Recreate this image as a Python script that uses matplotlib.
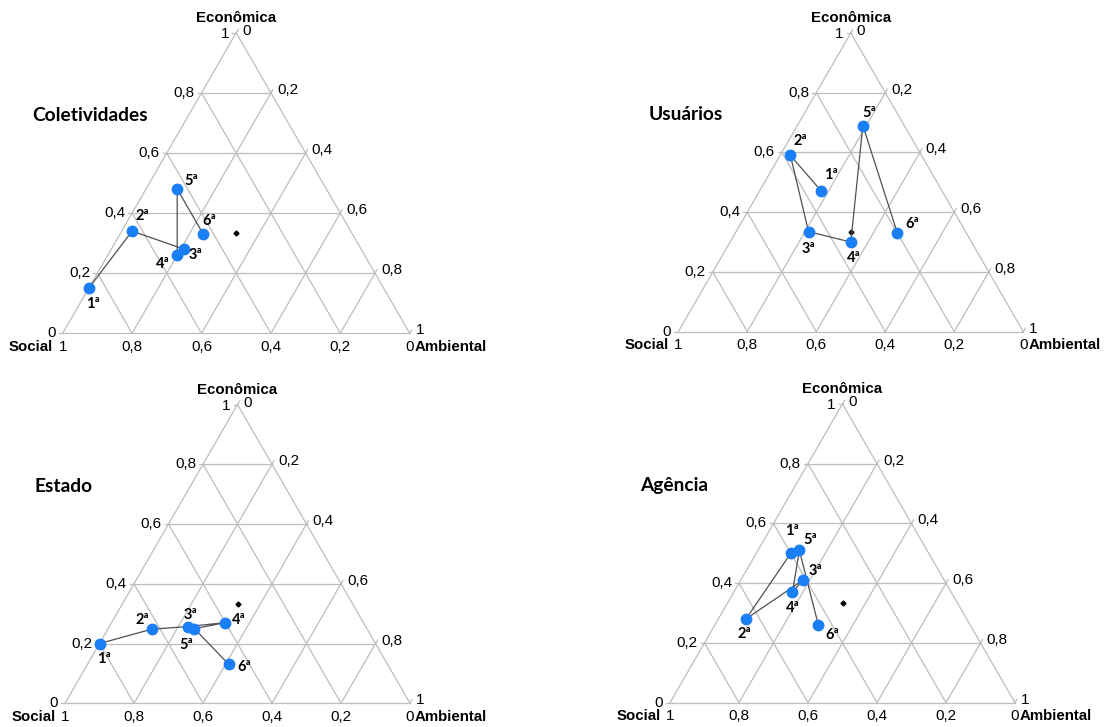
import numpy as np
import matplotlib
matplotlib.use("Agg")
import matplotlib.pyplot as plt

# Proporções (Social, Ambiental, Econômica) de cada rodada, por grupo
titulos = ["Coletividades", "Usuários", "Estado", "Agência"]
rodadas = ["1ª", "2ª", "3ª", "4ª", "5ª", "6ª"]

coletividades_social = [0.85, 0.63, 0.51, 0.54, 0.43, 0.43]
coletividades_ambiental = [0.00, 0.03, 0.21, 0.20, 0.09, 0.24]
coletividades_economica = [0.15, 0.34, 0.28, 0.26, 0.48, 0.33]

usuarios_social = [0.35, 0.38, 0.455, 0.35, 0.12, 0.20]
usuarios_ambiental = [0.18, 0.03, 0.21, 0.35, 0.19, 0.47]
usuarios_economica = [0.47, 0.59, 0.335, 0.30, 0.69, 0.33]

estado_social = [0.80, 0.625, 0.515, 0.40, 0.50, 0.46]
estado_ambiental = [0.00, 0.127, 0.228, 0.33, 0.25, 0.41]
estado_economica = [0.20, 0.248, 0.257, 0.27, 0.25, 0.13]

agencia_social = [0.40, 0.64, 0.41, 0.46, 0.37, 0.44]
agencia_ambiental = [0.10, 0.08, 0.18, 0.17, 0.12, 0.30]
agencia_economica = [0.50, 0.28, 0.41, 0.37, 0.51, 0.26]

# centro do triângulo (1/3, 1/3, 1/3)
centro = [1 / 3, 1 / 3, 1 / 3]
ticks = [0, 0.2, 0.4, 0.6, 0.8, 1]

grupos = [
    (coletividades_social, coletividades_ambiental, coletividades_economica),
    (usuarios_social, usuarios_ambiental, usuarios_economica),
    (estado_social, estado_ambiental, estado_economica),
    (agencia_social, agencia_ambiental, agencia_economica),
]

# posição de cada triângulo na figura: vértice Social (px), base (px), largura (px)
paineis = [(62.7, 333.3, 347), (678.3, 331.7, 345), (65, 703.3, 345), (670, 702.7, 345)]

# deslocamento (px) dos rótulos das rodadas
desloc = [
    [(4, -16), (10, 15), (11, -6), (-14, -9), (14, 8), (6, 13)],
    [(9, 16), (10, 14), (0, -17), (3, -16), (6, 13), (15, 9)],
    [(4, -15), (-9, 9), (3, 12), (13, 3), (-8, -16), (15, -3)],
    [(1, 22), (-2, -15), (13, 9), (0, -16), (11, 10), (14, -10)],
]

FW, FH = 1108, 727
H = np.sqrt(3) / 2
AZUL = "#1a7ef5"
GRADE = "#bdbdbd"
FONTE_EIXO = "Liberation Sans"
FONTE_TIT = "Lato"


def xy(amb, eco):
    amb = np.asarray(amb)
    eco = np.asarray(eco)
    return amb + eco / 2, eco * H


def fmt(v):
    return "0" if v == 0 else ("1" if v == 1 else f"{v:.1f}".replace(".", ","))


fig = plt.figure(figsize=(FW / 100, FH / 100), dpi=100)

XL, XR, YB, YT = -0.25, 1.3, -0.1, 0.95
for k, (x0, yb, W) in enumerate(paineis):
    left = (x0 + XL * W) / FW
    bottom = (FH - yb + YB * W) / FH
    ax = fig.add_axes([left, bottom, (XR - XL) * W / FW, (YT - YB) * W / FH])
    ax.set_xlim(XL, XR)
    ax.set_ylim(YB, YT)
    ax.axis("off")
    px = 1.0 / W  # um pixel em unidades de dados

    # bordas e grade
    for v in ticks:
        # Econômica constante (horizontal)
        x, y = xy([0, 1 - v], [v, v])
        ax.plot(x, y, color=GRADE, lw=0.9, zorder=1)
        # Ambiental constante (paralela ao lado esquerdo)
        x, y = xy([v, v], [0, 1 - v])
        ax.plot(x, y, color=GRADE, lw=0.9, zorder=1)
        # Social constante (paralela ao lado direito)
        x, y = xy([1 - v, 0], [0, 1 - v])
        ax.plot(x, y, color=GRADE, lw=0.9, zorder=1)

    # marcas e rótulos dos eixos
    for v in ticks:
        lx, ly = xy(0, v)
        ax.plot([lx, lx - 4 * px], [ly, ly], color=GRADE, lw=0.9)
        ax.text(lx - 7 * px, ly - (1 * px if v == 1 else 0), fmt(v),
                ha="right", va="center", family=FONTE_EIXO, fontsize=11)
        rx, ry = xy(v, 1 - v)
        ax.plot([rx, rx + 2 * px], [ry, ry + 3.4 * px], color=GRADE, lw=0.9)
        ax.text(rx + 6 * px, ry + (2 * px if v == 0 else 3 * px), fmt(v),
                ha="left", va="center", family=FONTE_EIXO, fontsize=11)
        bx, by = xy(1 - v, 0)
        ax.text(bx, by - 13.5 * px, fmt(v), ha="center", va="center",
                family=FONTE_EIXO, fontsize=11)

    ax.text(0.5, H + 15 * px, "Econômica", ha="center", va="center",
            family=FONTE_EIXO, fontsize=10.8, fontweight="bold")
    ax.text(-9.5 * px, -13.5 * px, "Social", ha="right", va="center",
            family=FONTE_EIXO, fontsize=10.8, fontweight="bold")
    ax.text(1 + 5 * px, -13.5 * px, "Ambiental", ha="left", va="center",
            family=FONTE_EIXO, fontsize=10.8, fontweight="bold")
    ax.text(-0.087, 0.629, titulos[k], ha="left", va="center",
            family=FONTE_TIT, fontsize=13.8, fontweight="bold")

    # trajetória das rodadas
    soc, amb, eco = grupos[k]
    x, y = xy(amb, eco)
    ax.plot(x, y, color="#505050", lw=0.9, zorder=3)
    ax.plot(x, y, "o", color=AZUL, ms=7.5, mec=AZUL, zorder=4)
    cx, cy = xy(centro[1], centro[2])
    ax.plot(cx, cy, "D", color="black", ms=2.5, zorder=2)
    for i, r in enumerate(rodadas):
        dx, dy = desloc[k][i]
        ax.annotate(r, (x[i], y[i]), xytext=(dx, dy), textcoords="offset pixels",
                    ha="center", va="center", family=FONTE_TIT, fontsize=10.5,
                    fontweight="bold", zorder=5)

fig.savefig("out.png", dpi=100)
